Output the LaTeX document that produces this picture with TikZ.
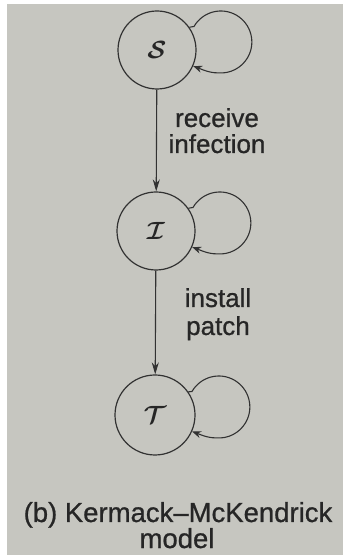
\documentclass[tikz,border=0pt]{standalone}
\usepackage{fontspec}
\setmainfont[FakeBold=0.8]{Liberation Sans}
\usetikzlibrary{arrows.meta,calc}
\definecolor{paper}{RGB}{198,198,192}
\definecolor{ink}{RGB}{50,50,50}
\definecolor{textink}{RGB}{38,38,38}
\tikzset{
  state/.style={circle,draw=ink,line width=1.2pt,minimum size=78pt,inner sep=0pt,
    text=textink,font=\fontsize{24}{24}\selectfont\boldmath},
  flow/.style={draw=ink,line width=1.1pt,-{Stealth[length=12pt,width=7pt]}},
  selfloop/.style={draw=ink,line width=1.1pt,-{Stealth[length=9pt,width=7pt]}},
  lbl/.style={text=textink,anchor=base,inner sep=0pt,font=\fontsize{26}{26}\selectfont},
  captext/.style={text=textink,anchor=base,inner sep=0pt,font=\fontsize{27.5}{27.5}\selectfont}
}
\begin{document}
\begin{tikzpicture}[x=1pt,y=1pt]
  % page and paper
  \fill[white] (0,0) rectangle (343,556);
  \fill[paper] (7,1) rectangle (343,552);
  \useasboundingbox (0,0) rectangle (343,556);

  % states
  \node[state] (S) at (157,506) {$\mathcal{S}$};
  \node[state] (I) at (156,325) {$\mathcal{I}$};
  \node[state,minimum size=80pt] (T) at (155,141) {$\mathcal{T}$};

  % transitions
  \draw[flow] (S) -- (I);
  \draw[flow] (I) -- (T);

  % self loops: a near-circular loop on the right of each state
  \foreach \n in {S,I,T}{
    \draw[selfloop] (\n.35) .. controls ($(\n)+(34,23)$) and ($(\n)+(36,23.5)$) .. ($(\n)+(37,23.5)$)
      arc[start angle=150,end angle=-95,radius=31]
      .. controls ($(\n)+(52,-23)$) and ($(\n)+(44,-19)$) .. (\n.-24);
  }

  % transition labels
  \node[lbl] (r1) at (217,429) {receive};
  \node[lbl] (r2) at (217,403) {infection};
  \node[lbl] (p1) at (218,249) {install};
  \node[lbl] (p2) at (218,221) {patch};

  % caption
  \node[captext] (c1) at (178,34) {(b) Kermack–McKendrick};
  \node[captext] (c2) at (177,8) {model};
\end{tikzpicture}
\end{document}
